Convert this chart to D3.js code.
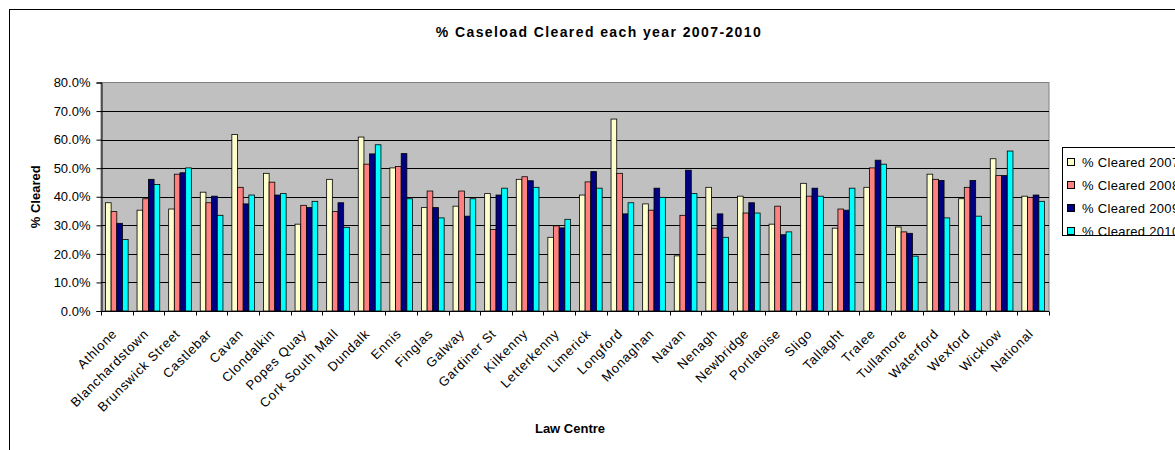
<!DOCTYPE html>
<html>
<head>
<meta charset="utf-8">
<script src="https://cdn.jsdelivr.net/npm/d3@7"></script>
<style>
  html, body { margin: 0; padding: 0; background: #fff; }
  svg { display: block; font-family: "Liberation Sans", Arial, sans-serif; }
</style>
</head>
<body>
<svg id="chart" width="1175" height="450"></svg>
<script>
// Law centres, in axis order
const centres = ["Athlone", "Blanchardstown", "Brunswick Street", "Castlebar", "Cavan",
  "Clondalkin", "Popes Quay", "Cork South Mall", "Dundalk", "Ennis", "Finglas", "Galway",
  "Gardiner St", "Kilkenny", "Letterkenny", "Limerick", "Longford", "Monaghan", "Navan",
  "Nenagh", "Newbridge", "Portlaoise", "Sligo", "Tallaght", "Tralee", "Tullamore",
  "Waterford", "Wexford", "Wicklow", "National"];

// Share of caseload cleared (%) per year
const cleared2007 = [37.9, 35.3, 35.7, 41.6, 61.8, 48.2, 30.4, 46.1, 60.9, 50.1, 36.2, 36.7,
  41.1, 46.1, 25.8, 40.6, 67.2, 37.5, 19.3, 43.3, 40.2, 30.4, 44.7, 29.0, 43.3, 29.4,
  47.9, 39.3, 53.3, 40.2];
const cleared2008 = [34.8, 39.3, 47.9, 37.9, 43.3, 45.1, 37.0, 34.8, 51.4, 50.6, 42.0, 42.0,
  28.5, 47.0, 29.8, 45.2, 48.2, 35.3, 33.5, 29.0, 34.3, 36.7, 40.2, 35.7, 50.1, 27.7,
  46.1, 43.3, 47.4, 39.8];
const cleared2009 = [30.7, 46.1, 48.4, 40.2, 37.5, 40.6, 36.2, 37.9, 55.0, 55.1, 36.2, 33.2,
  40.6, 45.6, 29.1, 48.8, 34.0, 43.0, 49.3, 34.0, 37.9, 26.7, 43.0, 35.3, 52.8, 27.2,
  45.7, 45.7, 47.4, 40.6];
const cleared2010 = [25.0, 44.3, 50.1, 33.5, 40.6, 41.1, 38.4, 29.3, 58.2, 39.3, 32.6, 39.3,
  43.0, 43.3, 32.1, 43.0, 37.9, 39.8, 41.1, 25.8, 34.3, 27.7, 40.2, 43.0, 51.4, 19.2,
  32.6, 33.2, 56.0, 38.4];

const seriesNames = ["% Cleared 2007", "% Cleared 2008", "% Cleared 2009", "% Cleared 2010"];
const seriesColors = ["#FFFFCC", "#FF8080", "#000080", "#00FFFF"];
const yTicks = [0, 10, 20, 30, 40, 50, 60, 70, 80];

const seriesValues = [cleared2007, cleared2008, cleared2009, cleared2010];
const rows = centres.map((c, i) => ({ centre: c, values: seriesValues.map(s => s[i]) }));

const svg = d3.select("#chart");

// Outer chart frame
svg.append("rect")
  .attr("x", 9.5).attr("y", 9.5)
  .attr("width", 1200).attr("height", 460)
  .attr("fill", "#fff").attr("stroke", "#000").attr("stroke-width", 1);

const plot = { left: 101, right: 1049, top: 82.5, bottom: 311 };

const x = d3.scaleBand()
  .domain(centres)
  .range([plot.left, plot.right])
  .paddingInner(0).paddingOuter(0);

const inner = d3.scaleBand()
  .domain(d3.range(4))
  .range([x.bandwidth() * 0.141, x.bandwidth() * 0.859])
  .padding(0);

const y = d3.scaleLinear().domain([0, 80]).range([plot.bottom, plot.top]);

// Plot area background
svg.append("rect")
  .attr("x", plot.left).attr("y", plot.top)
  .attr("width", plot.right - plot.left).attr("height", plot.bottom - plot.top)
  .attr("fill", "#C0C0C0").attr("stroke", "#808080").attr("stroke-width", 1);

// Horizontal gridlines
svg.append("g")
  .selectAll("line")
  .data(yTicks.filter(t => t > 0 && t < 80))
  .join("line")
  .attr("x1", plot.left).attr("x2", plot.right)
  .attr("y1", d => Math.round(y(d)) + 0.5).attr("y2", d => Math.round(y(d)) + 0.5)
  .attr("stroke", "#000").attr("stroke-width", 1);

// Bars
const groups = svg.append("g")
  .selectAll("g")
  .data(rows)
  .join("g")
  .attr("transform", d => `translate(${x(d.centre)},0)`);

groups.selectAll("rect")
  .data(d => d.values.map((v, k) => ({ v, k })))
  .join("rect")
  .attr("x", d => inner(d.k))
  .attr("y", d => y(d.v))
  .attr("width", inner.bandwidth())
  .attr("height", d => y(0) - y(d.v))
  .attr("fill", d => seriesColors[d.k])
  .attr("stroke", "#000")
  .attr("stroke-width", 0.8);

// Y axis
const yAxis = svg.append("g")
  .attr("transform", `translate(${plot.left + 0.5},0)`)
  .call(d3.axisLeft(y).tickValues(yTicks).tickSize(5).tickPadding(6)
    .tickFormat(d => d.toFixed(1) + "%"));
yAxis.select(".domain").attr("stroke", "#000");
yAxis.selectAll(".tick line").attr("stroke", "#000");
yAxis.selectAll("text").attr("font-size", 13).attr("fill", "#000")
  .attr("font-family", "Liberation Sans, Arial, sans-serif");

// X axis: ticks sit on the category boundaries
const xAxisG = svg.append("g").attr("transform", `translate(0,${plot.bottom + 0.5})`);
xAxisG.append("line")
  .attr("x1", plot.left).attr("x2", plot.right)
  .attr("stroke", "#000");
xAxisG.selectAll("line.tick")
  .data(centres.map(c => x(c)).concat([plot.right]))
  .join("line")
  .attr("class", "tick")
  .attr("x1", d => Math.round(d) + 0.5).attr("x2", d => Math.round(d) + 0.5)
  .attr("y1", 0).attr("y2", 4)
  .attr("stroke", "#000");
xAxisG.selectAll("text")
  .data(centres)
  .join("text")
  .attr("transform", d => `translate(${x(d) + x.bandwidth() / 2 + 1},${23}) rotate(-45)`)
  .attr("text-anchor", "end")
  .attr("font-size", 13)
  .attr("letter-spacing", 0.8)
  .attr("fill", "#000")
  .text(d => d);

// Titles
svg.append("text")
  .attr("x", 599).attr("y", 37)
  .attr("text-anchor", "middle")
  .attr("font-size", 14).attr("font-weight", "bold")
  .attr("letter-spacing", 1.4)
  .text("% Caseload Cleared each year 2007-2010");

svg.append("text")
  .attr("x", 570).attr("y", 433)
  .attr("text-anchor", "middle")
  .attr("font-size", 13).attr("font-weight", "bold")
  .text("Law Centre");

svg.append("text")
  .attr("transform", `translate(40,${(plot.top + plot.bottom) / 2}) rotate(-90)`)
  .attr("text-anchor", "middle")
  .attr("font-size", 13).attr("font-weight", "bold")
  .text("% Cleared");

// Legend
const legend = svg.append("g");
legend.append("rect")
  .attr("x", 1062.5).attr("y", 147.5)
  .attr("width", 140).attr("height", 88)
  .attr("fill", "#fff").attr("stroke", "#000");
const items = legend.selectAll("g.item")
  .data(seriesNames)
  .join("g")
  .attr("class", "item")
  .attr("transform", (d, i) => `translate(1067,${162 + i * 23})`);
items.append("rect")
  .attr("x", 0.5).attr("y", -3.5)
  .attr("width", 7).attr("height", 7)
  .attr("fill", (d, i) => seriesColors[i])
  .attr("stroke", "#000");
items.append("text")
  .attr("x", 15).attr("y", 5)
  .attr("font-size", 13)
  .attr("letter-spacing", 0.3)
  .attr("fill", "#000")
  .text(d => d);
</script>
</body>
</html>
